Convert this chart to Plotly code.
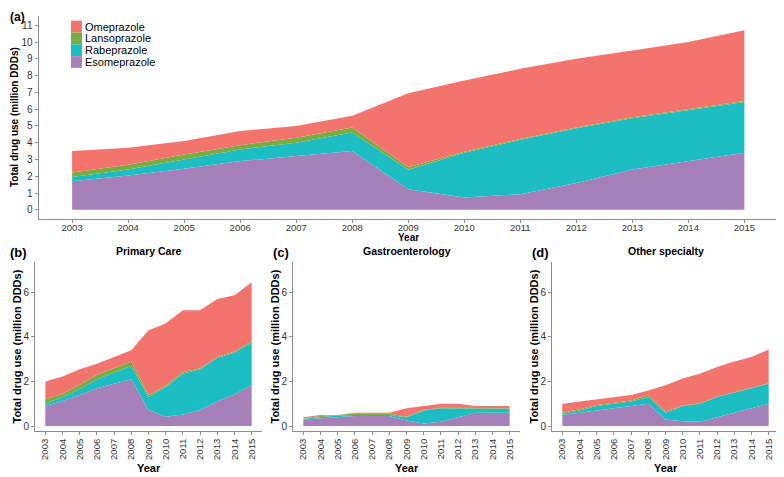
"""
PPI use by drug, overall and by prescriber specialty: stacked area charts
"""
import plotly.graph_objects as go

years = list(range(2003, 2016))
drugs = ['Esomeprazole', 'Rabeprazole', 'Lansoprazole', 'Omeprazole']
legend_order = ['Omeprazole', 'Lansoprazole', 'Rabeprazole', 'Esomeprazole']
colors = {'Omeprazole': '#F2746D', 'Lansoprazole': '#78AD42',
          'Rabeprazole': '#1CBDC3', 'Esomeprazole': '#A681B9'}

# (a) total, million DDDs (individual layer values, stacked bottom->top)
total_esome = [1.70, 2.05, 2.45, 2.90, 3.20, 3.50, 1.23, 0.73, 0.93, 1.60, 2.40, 2.90, 3.40]
total_rabe = [0.25, 0.35, 0.55, 0.70, 0.80, 1.10, 1.15, 2.67, 3.24, 3.26, 3.06, 3.05, 3.02]
total_lanso = [0.27, 0.28, 0.30, 0.25, 0.30, 0.30, 0.15, 0.06, 0.05, 0.05, 0.05, 0.05, 0.06]
total_omep = [1.28, 1.02, 0.80, 0.85, 0.70, 0.70, 4.42, 4.24, 4.18, 4.09, 3.99, 4.00, 4.22]

# (b) primary care
pc_esome = [0.90, 1.13, 1.40, 1.70, 1.90, 2.10, 0.72, 0.42, 0.52, 0.72, 1.10, 1.42, 1.84]
pc_rabe = [0.10, 0.17, 0.25, 0.40, 0.50, 0.60, 0.58, 1.33, 1.83, 1.83, 1.95, 1.88, 1.91]
pc_lanso = [0.20, 0.15, 0.20, 0.20, 0.20, 0.20, 0.10, 0.05, 0.07, 0.05, 0.05, 0.05, 0.05]
pc_omep = [0.80, 0.77, 0.70, 0.50, 0.50, 0.50, 2.90, 2.80, 2.78, 2.60, 2.60, 2.52, 2.65]

# (c) gastroenterology
ga_esome = [0.30, 0.35, 0.40, 0.45, 0.45, 0.45, 0.25, 0.12, 0.20, 0.40, 0.60, 0.60, 0.60]
ga_rabe = [0.03, 0.05, 0.08, 0.05, 0.05, 0.05, 0.15, 0.58, 0.60, 0.40, 0.20, 0.18, 0.18]
ga_lanso = [0.02, 0.05, 0.02, 0.08, 0.08, 0.08, 0.02, 0.02, 0.02, 0.02, 0.02, 0.02, 0.02]
ga_omep = [0.05, 0.05, 0.00, 0.02, 0.02, 0.02, 0.38, 0.18, 0.18, 0.18, 0.08, 0.10, 0.10]

# (d) other specialty
ot_esome = [0.50, 0.60, 0.70, 0.80, 0.90, 1.00, 0.30, 0.22, 0.20, 0.40, 0.60, 0.80, 1.00]
ot_rabe = [0.05, 0.10, 0.20, 0.20, 0.20, 0.30, 0.30, 0.68, 0.80, 0.90, 0.90, 0.90, 0.90]
ot_lanso = [0.05, 0.05, 0.05, 0.05, 0.05, 0.10, 0.05, 0.02, 0.02, 0.02, 0.02, 0.02, 0.02]
ot_omep = [0.40, 0.35, 0.25, 0.25, 0.25, 0.20, 1.18, 1.21, 1.33, 1.33, 1.38, 1.38, 1.51]

panels = [
    ('', {'Esomeprazole': total_esome, 'Rabeprazole': total_rabe,
          'Lansoprazole': total_lanso, 'Omeprazole': total_omep}),
    ('Primary Care', {'Esomeprazole': pc_esome, 'Rabeprazole': pc_rabe,
                      'Lansoprazole': pc_lanso, 'Omeprazole': pc_omep}),
    ('Gastroenterology', {'Esomeprazole': ga_esome, 'Rabeprazole': ga_rabe,
                          'Lansoprazole': ga_lanso, 'Omeprazole': ga_omep}),
    ('Other specialty', {'Esomeprazole': ot_esome, 'Rabeprazole': ot_rabe,
                         'Lansoprazole': ot_lanso, 'Omeprazole': ot_omep}),
]
letters = ['(a)', '(b)', '(c)', '(d)']

W, H = 784, 477
OFF = 8  # page body margin: the figure starts 8px in from the window corner


def px(x):
    return (x - OFF) / W


def py(y):
    return 1 - (y - OFF) / H


# plot boxes in window pixels: left, right, top, bottom
boxes = [(38.5, 778, 16, 219), (35, 262, 262, 431), (293, 520, 262, 431), (552, 779, 262, 431)]

FONT = 'Liberation Sans, Arial, sans-serif'
fig = go.Figure()

for i, (title, data) in enumerate(panels):
    sfx = '' if i == 0 else str(i + 1)
    for d in drugs:
        fig.add_trace(go.Scatter(
            x=years, y=data[d], mode='lines', stackgroup='s%d' % i,
            line=dict(width=0), fillcolor=colors[d], showlegend=False,
            hoverinfo='x+y+name', name=d,
            xaxis='x' + sfx, yaxis='y' + sfx
        ))

layout = {}
annotations = []
shapes = []
for i, (l, r, t, b) in enumerate(boxes):
    sfx = '' if i == 0 else str(i + 1)
    top = i == 0
    axis_common = dict(showline=True, linecolor='#8c8c8c', linewidth=1,
                       ticks='outside', ticklen=3, tickcolor='#8c8c8c',
                       showgrid=False, zeroline=False)
    layout['xaxis' + sfx] = dict(
        domain=[px(l), px(r)], anchor='y' + sfx, range=[2002.4, 2015.6],
        tickmode='array', tickvals=years, ticktext=[str(y) for y in years],
        tickangle=0 if top else -90,
        ticklabelstandoff=-3 if top else 0,
        tickfont=dict(family=FONT, size=9.5, color='#333333'), **axis_common)
    layout['yaxis' + sfx] = dict(
        domain=[py(b), py(t)], anchor='x' + sfx,
        range=[-0.55, 11.55] if top else [-0.22, 7.36],
        tickvals=list(range(0, 12)) if top else [0, 2, 4, 6],
        tickfont=dict(family=FONT, size=10, color='#333333'), **axis_common)

    cx = px((l + r) / 2)
    # y axis title
    annotations.append(dict(
        text='<b>Total drug use (million DDDs)</b>', textangle=-90,
        x=px(l - 24) if top else px(l - 19), y=py((t + b) / 2),
        xref='paper', yref='paper', showarrow=False, xanchor='center', yanchor='middle',
        font=dict(family=FONT, size=10 if top else 11, color='black')))
    # x axis title
    annotations.append(dict(
        text='<b>Year</b>', x=cx, y=py(237 if top else 468),
        xref='paper', yref='paper', showarrow=False, xanchor='center', yanchor='middle',
        font=dict(family=FONT, size=10 if top else 11, color='black')))
    # panel letter
    annotations.append(dict(
        text='<b>%s</b>' % letters[i], x=px(8 if i < 2 else l - 22),
        y=py(8.5) if top else py(253),
        xref='paper', yref='paper', showarrow=False, xanchor='left',
        yanchor='top' if top else 'middle',
        font=dict(family=FONT, size=12 if top else 13, color='black')))
    if panels[i][0]:
        annotations.append(dict(
            text='<b>%s</b>' % panels[i][0], x=cx, y=py(251),
            xref='paper', yref='paper', showarrow=False, xanchor='center', yanchor='middle',
            font=dict(family=FONT, size=10.5, color='black')))

# legend key inside panel (a): touching square swatches with labels
for k, d in enumerate(legend_order):
    y0 = 20.7 + k * 11.8
    shapes.append(dict(type='rect', xref='paper', yref='paper',
                       x0=px(71), x1=px(82), y0=py(y0 + 11.8), y1=py(y0),
                       fillcolor=colors[d], line=dict(width=0)))
    annotations.append(dict(
        text=d, x=px(83), y=py(y0 + 5.9), xref='paper', yref='paper',
        showarrow=False, xanchor='left', yanchor='middle',
        font=dict(family=FONT, size=11, color='black')))

fig.update_layout(
    width=W, height=H, margin=dict(l=0, r=0, t=0, b=0),
    plot_bgcolor='white', paper_bgcolor='white',
    showlegend=False,
    annotations=annotations, shapes=shapes,
    **layout
)

fig.write_html("out.html")
